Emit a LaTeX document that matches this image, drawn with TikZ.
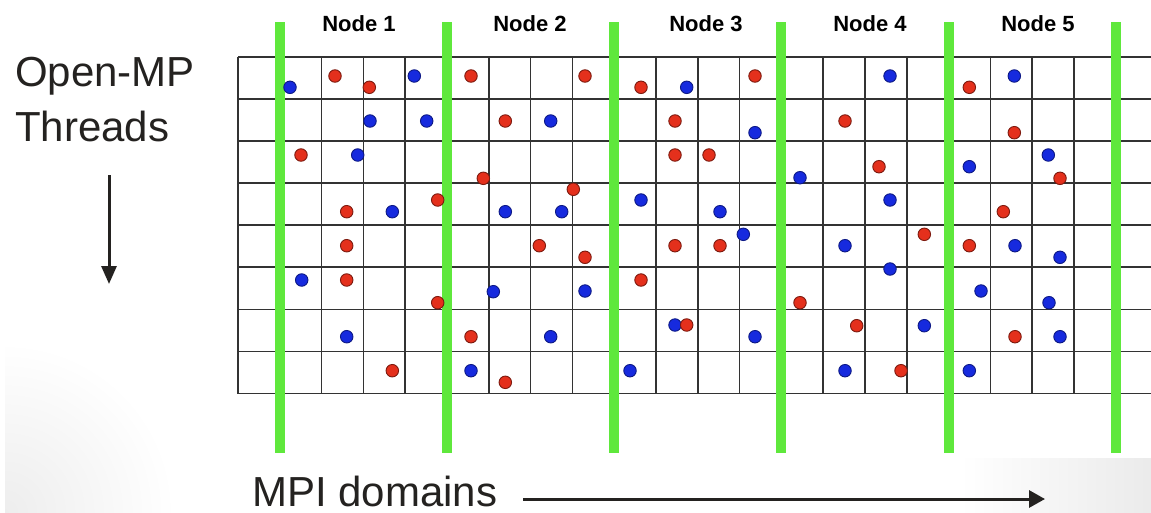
\documentclass[tikz,border=0pt]{standalone}
\usepackage{fontspec}
\setmainfont{Liberation Sans}
\usetikzlibrary{arrows.meta}
\definecolor{gridgreen}{RGB}{95,232,60}
\definecolor{dotred}{RGB}{228,48,28}
\definecolor{dotblue}{RGB}{22,42,222}
\definecolor{txt}{RGB}{36,34,32}
\tikzset{
  gridline/.style={draw=black!80,line width=1.6pt},
  nodeline/.style={draw=gridgreen,line width=10pt},
  nodelabel/.style={font=\fontsize{22}{24}\selectfont\bfseries,text=black,inner sep=0pt},
  bigtext/.style={font=\fontsize{42}{44}\selectfont,text=txt,inner sep=0pt,anchor=base west},
  reddot/.style={circle,fill=dotred,draw=dotred!55!black,line width=0.9pt,minimum size=12.5pt,inner sep=0pt},
  bluedot/.style={circle,fill=dotblue,draw=dotblue!60!black,line width=0.9pt,minimum size=12.5pt,inner sep=0pt},
  bigarrow/.style={draw=txt,fill=txt,line width=3pt},
}
\begin{document}
\begin{tikzpicture}[x=1pt,y=-1pt]
\useasboundingbox (0,0) rectangle (1151,512);
\fill[white] (0,0) rectangle (1151,512);
% slide background shading
\begin{scope}
  \clip (960,458) rectangle (1151,512);
  \shade[left color=white,right color=black!8] (960,458) rectangle (1151,512);
\end{scope}
\begin{scope}
  \clip (5,300) rectangle (240,512);
  \shade[inner color=black!7,outer color=white] (5,512) circle (170);
\end{scope}
% grid
\foreach \k in {0,...,21}{
  \draw[gridline] (238+41.8*\k,56.7) -- (238+41.8*\k,393.5);
}
\foreach \j in {0,...,8}{
  \draw[gridline] (238,56.7+42.1*\j) -- (1151,56.7+42.1*\j);
}
% node boundaries
\foreach \k [count=\i] in {1,5,9,13,17,21}{
  \draw[nodeline] (238+41.8*\k,22) -- (238+41.8*\k,453);
}
% node labels
\node[nodelabel] (n1) at (359,23.5) {Node 1};
\node[nodelabel] (n2) at (530,23.5) {Node 2};
\node[nodelabel] (n3) at (706,23.5) {Node 3};
\node[nodelabel] (n4) at (870,23.5) {Node 4};
\node[nodelabel] (n5) at (1038,23.5) {Node 5};
% particles
\foreach \x/\y/\c [count=\i] in {
 290/87.3/b, 335/76/r, 369.3/87.3/r, 414.3/76/b, 471/76/r, 585/76/r, 641/87.3/r, 686.7/87.3/b, 755/76/r, 890/76/b, 969.3/87.3/r, 1014.3/76/b,
 370/121/b, 426.7/121/b, 505.3/121/r, 550.7/121/b, 675/121/r, 755/132.7/b, 845/121/r, 1014.3/132.7/r,
 301/155/r, 357.7/155/b, 483.3/178.3/r, 675/155/r, 709/155/r, 800/177.7/b, 573.3/189.3/r, 879/166.7/r, 969.3/166.7/b, 1048.3/155/b, 1060/178.3/r,
 437.7/200/r, 346.7/211.7/r, 392.3/211.7/b, 505.3/211.7/b, 561.7/211.7/b, 641/200/b, 720/211.7/b, 890/200/b, 1003.3/211.7/r,
 346.7/245.7/r, 743.3/234.3/b, 539.3/245.7/r, 675/245.7/r, 720/245.7/r, 585/257.3/r, 924.3/234.3/r, 845/245.7/b, 969.3/245.7/r, 1015/245.7/b, 1060/257.3/b, 890/269/b,
 301.7/280/b, 346.7/280/r, 493.3/291.7/b, 437.7/302.7/r, 641/280/r, 585/291/b, 800/302.7/r, 981/291/b, 1049/302.7/b,
 346.7/336.7/b, 471/336.7/r, 675/325/b, 686.7/325/r, 550.7/336.7/b, 755/336.7/b, 856.7/325.7/r, 924.3/325.7/b, 1015/336.7/r, 1060/336.7/b,
 392.3/370.7/r, 471/370.7/b, 505.3/382.3/r, 630/370.7/b, 845/370.7/b, 901/370.7/r, 969.3/370.7/b}{
  \if\c r
    \node[reddot] (p\i) at (\x,\y) {};
  \else
    \node[bluedot] (p\i) at (\x,\y) {};
  \fi
}
% labels and arrows
\node[bigtext] (omp) at (15,86) {Open-MP};
\node[bigtext] (thr) at (15,141) {Threads};
\node[bigtext] (mpi) at (252,506) {MPI domains};
\coordinate (dtop) at (109,175);
\coordinate (dbot) at (109,284);
\draw[bigarrow,-{Triangle[length=18pt,width=15pt]}] (dtop) -- (dbot);
\coordinate (rleft) at (523,499);
\coordinate (rright) at (1045,499);
\draw[bigarrow,-{Triangle[length=16pt,width=17pt]}] (rleft) -- (rright);
\end{tikzpicture}
\end{document}
